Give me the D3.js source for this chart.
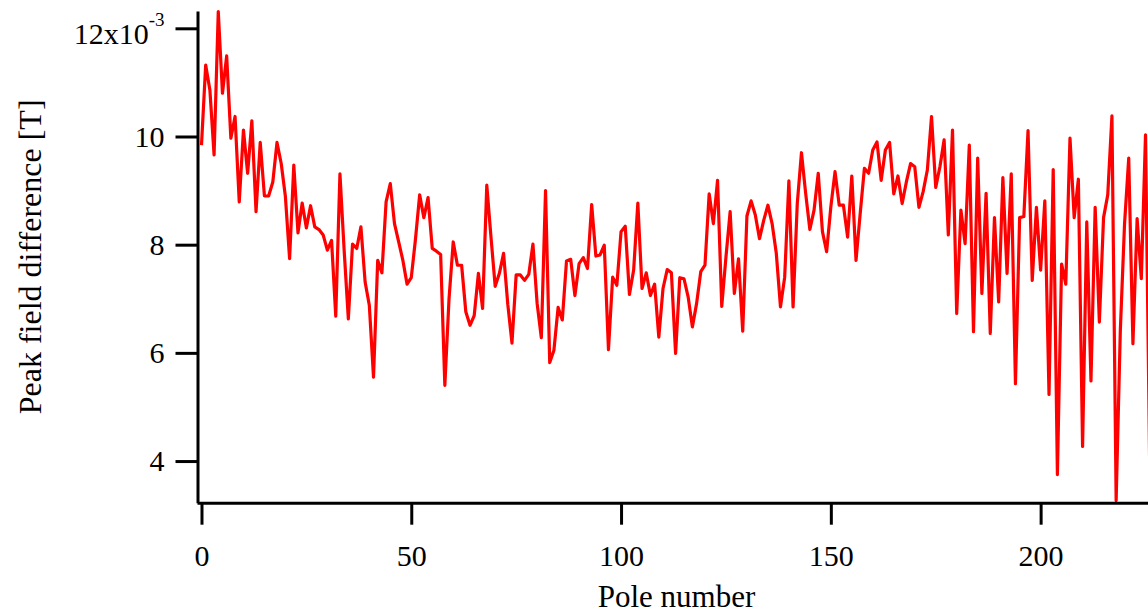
<!DOCTYPE html>
<html>
<head>
<meta charset="utf-8">
<script src="https://cdn.jsdelivr.net/npm/d3@7"></script>
<style>
    body { margin: 0; background: #fff; }
    svg { display: block; }
    text { font-family: "Liberation Serif", "Times New Roman", serif; fill: #000; }
</style>
</head>
<body>
<div id="canvas"></div>
<script>
// peak field difference per pole, in units of 1e-3 T
let peakDiff = [
    9.84, 11.32, 10.86, 9.66, 12.31, 10.80, 11.49, 9.97, 10.37, 8.79,
    10.12, 9.32, 10.29, 8.61, 9.89, 8.90, 8.90, 9.16, 9.89, 9.50,
    8.89, 7.74, 9.47, 8.22, 8.77, 8.31, 8.72, 8.33, 8.28, 8.18,
    7.90, 8.08, 6.68, 9.31, 7.90, 6.63, 8.01, 7.93, 8.33, 7.31,
    6.88, 5.55, 7.71, 7.48, 8.79, 9.13, 8.39, 8.05, 7.71, 7.27,
    7.39, 8.10, 8.92, 8.50, 8.87, 7.93, 7.88, 7.82, 5.40, 7.00,
    8.05, 7.62, 7.62, 6.76, 6.51, 6.69, 7.47, 6.82, 9.10, 8.14,
    7.23, 7.47, 7.84, 6.90, 6.18, 7.44, 7.44, 7.34, 7.45, 8.01,
    6.91, 6.28, 9.00, 5.82, 6.05, 6.84, 6.61, 7.70, 7.73, 7.06,
    7.65, 7.76, 7.56, 8.74, 7.79, 7.81, 7.99, 6.06, 7.40, 7.25,
    8.24, 8.34, 7.08, 7.53, 8.77, 7.19, 7.48, 7.06, 7.27, 6.29,
    7.19, 7.54, 7.48, 5.99, 7.39, 7.37, 7.03, 6.48, 6.91, 7.50,
    7.62, 8.94, 8.39, 9.19, 6.86, 7.77, 8.61, 7.10, 7.74, 6.40,
    8.53, 8.81, 8.55, 8.11, 8.45, 8.73, 8.39, 7.84, 6.85, 7.40,
    9.18, 6.85, 8.76, 9.70, 8.95, 8.28, 8.64, 9.32, 8.24, 7.87,
    8.70, 9.35, 8.73, 8.73, 8.14, 9.27, 7.71, 8.58, 9.41, 9.32,
    9.75, 9.90, 9.19, 9.75, 9.89, 8.94, 9.27, 8.76, 9.16, 9.50,
    9.44, 8.69, 8.98, 9.38, 10.37, 9.06, 9.44, 9.94, 8.18, 10.12,
    6.73, 8.64, 8.02, 9.84, 6.39, 9.60, 7.10, 8.95, 6.36, 8.50,
    6.94, 9.24, 7.47, 9.31, 5.43, 8.50, 8.52, 10.11, 7.34, 8.69,
    7.53, 8.81, 5.23, 9.39, 3.75, 7.64, 7.27, 9.97, 8.50, 9.21,
    4.27, 8.42, 5.48, 8.69, 6.57, 8.50, 8.92, 10.38, 3.27, 6.42,
    8.38, 9.60, 6.17, 8.48, 7.37, 10.03, 3.90
];
let poles = peakDiff.map((d, i) => i);

let xTicks = [0, 50, 100, 150, 200];
let yTicks = [4, 6, 8, 10, 12];
let yExponent = "-3";
let xTitle = "Pole number";
let yTitle = "Peak field difference [T]";

let width = 1148;
let height = 613;

const x = d3.scaleLinear()
    .domain([-1.07, 227.5])
    .range([197, 1156]);

const y = d3.scaleLinear()
    .domain([3.23, 12.32])
    .range([502.7, 11]);

let canvas = d3.select("#canvas")
    .append("svg")
    .attr("width", width)
    .attr("height", height);

canvas.append("clipPath")
    .attr("id", "plotClip")
    .append("rect")
    .attr("x", 197)
    .attr("y", 8)
    .attr("width", 1156 - 197)
    .attr("height", 502.7 - 8);

// data trace
const line = d3.line()
    .x((d, i) => x(poles[i]))
    .y(d => y(d));

canvas.append("path")
    .datum(peakDiff)
    .attr("clip-path", "url(#plotClip)")
    .attr("fill", "none")
    .attr("stroke", "#ff0000")
    .attr("stroke-width", 3.2)
    .attr("stroke-linejoin", "round")
    .attr("d", line);

// axes
let xAxis = canvas.append("g")
    .attr("transform", "translate(0,502.7)")
    .call(d3.axisBottom(x)
        .tickValues(xTicks)
        .tickSize(22)
        .tickSizeOuter(0)
        .tickPadding(20));

let yAxis = canvas.append("g")
    .attr("transform", "translate(197.5,0)")
    .call(d3.axisLeft(y)
        .tickValues(yTicks)
        .tickSize(22)
        .tickSizeOuter(0)
        .tickPadding(11));

[xAxis, yAxis].forEach(g => {
    g.select(".domain").attr("stroke", "#000").attr("stroke-width", 3);
    g.selectAll(".tick line").attr("stroke", "#000").attr("stroke-width", 3);
    g.selectAll(".tick text")
        .style("font-size", "30px")
        .style("font-family", "'Liberation Serif', 'Times New Roman', serif");
});

// top y label carries the exponent, centred with it on the tick
yAxis.selectAll(".tick text")
    .filter(d => d === d3.max(yTicks))
    .attr("dy", "15")
    .text(null)
    .call(t => {
        t.append("tspan").text(d => d + "x10");
        t.append("tspan")
            .attr("dy", -18)
            .style("font-size", "19px")
            .text(yExponent);
    });

// axis titles
canvas.append("text")
    .attr("x", (197 + 1156) / 2)
    .attr("y", 607)
    .attr("text-anchor", "middle")
    .style("font-size", "31px")
    .text(xTitle);

canvas.append("text")
    .attr("transform", `translate(41,${(11 + 502.7) / 2}) rotate(-90)`)
    .attr("text-anchor", "middle")
    .style("font-size", "32px")
    .text(yTitle);
</script>
</body>
</html>
